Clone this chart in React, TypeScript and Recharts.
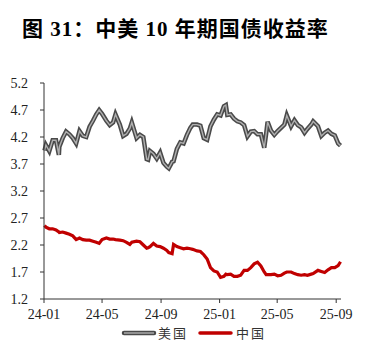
import React from "react";
import { LineChart, Line, XAxis, YAxis } from "recharts";

// trading dates (weekly-ish), aligned with the two yield arrays
const dates = [
  "2024-01-02", "2024-01-05", "2024-01-12", "2024-01-19", "2024-01-26", "2024-02-01", "2024-02-02", "2024-02-09",
  "2024-02-16", "2024-02-23", "2024-03-01", "2024-03-08", "2024-03-15", "2024-03-22", "2024-03-29", "2024-04-05",
  "2024-04-12", "2024-04-19", "2024-04-25", "2024-05-01", "2024-05-10", "2024-05-17", "2024-05-24", "2024-05-29",
  "2024-06-07", "2024-06-14", "2024-06-21", "2024-06-28", "2024-07-02", "2024-07-12", "2024-07-19", "2024-07-26",
  "2024-08-02", "2024-08-05", "2024-08-09", "2024-08-16", "2024-08-23", "2024-08-30", "2024-09-06", "2024-09-13",
  "2024-09-17", "2024-09-24", "2024-09-27", "2024-10-04", "2024-10-11", "2024-10-18", "2024-10-25", "2024-11-01",
  "2024-11-06", "2024-11-15", "2024-11-22", "2024-11-29", "2024-12-06", "2024-12-13", "2024-12-20", "2024-12-27",
  "2025-01-03", "2025-01-10", "2025-01-14", "2025-01-17", "2025-01-24", "2025-01-31", "2025-02-07", "2025-02-14",
  "2025-02-21", "2025-02-28", "2025-03-07", "2025-03-14", "2025-03-21", "2025-03-28", "2025-04-04", "2025-04-08",
  "2025-04-11", "2025-04-18", "2025-04-25", "2025-05-02", "2025-05-09", "2025-05-16", "2025-05-21", "2025-05-30",
  "2025-06-06", "2025-06-13", "2025-06-20", "2025-06-27", "2025-07-03", "2025-07-11", "2025-07-15", "2025-07-25",
  "2025-08-01", "2025-08-08", "2025-08-15", "2025-08-22", "2025-08-29", "2025-09-05", "2025-09-10",
];

const usYield = [
  3.95, 4.05, 3.94, 4.14, 4.14, 3.87, 4.02, 4.18,
  4.30, 4.25, 4.18, 4.08, 4.31, 4.22, 4.20, 4.39,
  4.50, 4.62, 4.70, 4.63, 4.50, 4.42, 4.47, 4.62,
  4.43, 4.22, 4.26, 4.36, 4.47, 4.18, 4.24, 4.20,
  3.79, 3.78, 3.94, 3.89, 3.80, 3.91, 3.72, 3.65,
  3.62, 3.74, 3.75, 3.98, 4.10, 4.08, 4.24, 4.37,
  4.43, 4.43, 4.41, 4.18, 4.15, 4.40, 4.52, 4.62,
  4.60, 4.77, 4.79, 4.61, 4.62, 4.54, 4.49, 4.47,
  4.42, 4.21, 4.30, 4.31, 4.25, 4.25, 4.00, 4.26,
  4.48, 4.32, 4.24, 4.31, 4.37, 4.43, 4.60, 4.40,
  4.51, 4.42, 4.38, 4.28, 4.35, 4.43, 4.49, 4.40,
  4.22, 4.28, 4.32, 4.26, 4.23, 4.08, 4.04,
];

const cnYield = [
  2.56, 2.53, 2.50, 2.50, 2.48, 2.44, 2.43, 2.44,
  2.42, 2.40, 2.37, 2.30, 2.33, 2.30, 2.29, 2.29,
  2.27, 2.25, 2.23, 2.30, 2.33, 2.31, 2.31, 2.30,
  2.29, 2.28, 2.25, 2.21, 2.25, 2.27, 2.26, 2.20,
  2.14, 2.15, 2.17, 2.23, 2.18, 2.17, 2.14, 2.10,
  2.06, 2.04, 2.21, 2.17, 2.15, 2.13, 2.14, 2.13,
  2.12, 2.09, 2.08, 2.02, 1.94, 1.78, 1.72, 1.70,
  1.60, 1.62, 1.66, 1.65, 1.66, 1.62, 1.62, 1.64,
  1.73, 1.73, 1.78, 1.85, 1.88, 1.81, 1.70, 1.65,
  1.65, 1.65, 1.66, 1.63, 1.64, 1.68, 1.70, 1.70,
  1.67, 1.65, 1.64, 1.65, 1.64, 1.66, 1.67, 1.73,
  1.71, 1.69, 1.74, 1.78, 1.78, 1.82, 1.89,
];

const xTickDates = ["2024-01-01", "2024-05-01", "2024-09-01", "2025-01-01", "2025-05-01", "2025-09-01"];
const yTicks = [1.2, 1.7, 2.2, 2.7, 3.2, 3.7, 4.2, 4.7, 5.2];

const toDay = (s: string) => {
  const [y, m, d] = s.split("-").map(Number);
  return (Date.UTC(y, m - 1, d) - Date.UTC(2024, 0, 1)) / 86400000;
};

const data = dates.map((d, i) => ({ day: toDay(d), us: usYield[i], cn: cnYield[i] }));
const xTicks = xTickDates.map(toDay);
const fmtX = (v: number) => {
  const dt = new Date(Date.UTC(2024, 0, 1) + v * 86400000);
  return `${String(dt.getUTCFullYear()).slice(2)}-${String(dt.getUTCMonth() + 1).padStart(2, "0")}`;
};

const serif = '"Times New Roman", "Liberation Serif", serif';
const tickStyle = { fontFamily: serif, fontSize: 14, fill: "#222" };
const legendText = {
  position: "absolute" as const, top: 325, fontFamily: '"Noto Sans CJK SC", sans-serif', fontSize: 13,
  lineHeight: "16px", color: "#333", letterSpacing: 2,
};

export default function App() {
  return (
    <div style={{ position: "fixed", left: 0, top: 0, width: 367, height: 363, background: "#fff" }}>
      <div
        style={{
          position: "absolute", left: 22, top: 17, fontSize: 21, lineHeight: "24px", fontWeight: "bold",
          fontFamily: '"Times New Roman", "Liberation Serif", "Noto Sans CJK SC", serif', color: "#000",
          whiteSpace: "nowrap", letterSpacing: 1,
        }}
      >
        图 31：中美 10 年期国债收益率
      </div>
      <LineChart width={367} height={363} data={data} margin={{ top: 83, right: 26, left: 0, bottom: 34 }}>
        <XAxis
          dataKey="day"
          type="number"
          domain={[0, 619]}
          ticks={xTicks}
          tickFormatter={fmtX}
          tick={tickStyle}
          tickSize={4}
          tickMargin={6}
          stroke="#333"
          height={30}
        />
        <YAxis
          type="number"
          domain={[1.2, 5.2]}
          ticks={yTicks}
          tickFormatter={(v: number) => v.toFixed(1)}
          tick={tickStyle}
          tickSize={4}
          tickMargin={12}
          stroke="#333"
          width={44}
          interval={0}
        />
        <Line dataKey="us" type="linear" stroke="#4a4a4a" strokeWidth={4.5} dot={false} isAnimationActive={false} />
        <Line dataKey="us" type="linear" stroke="#b0b0b0" strokeWidth={1.4} dot={false} isAnimationActive={false} />
        <Line dataKey="cn" type="linear" stroke="#c00000" strokeWidth={3.2} dot={false} isAnimationActive={false} />
      </LineChart>
      <svg width={367} height={20} style={{ position: "absolute", left: 0, top: 323 }}>
        <line x1={124} y1={10} x2={154} y2={10} stroke="#4a4a4a" strokeWidth={4.5} strokeLinecap="round" />
        <line x1={124} y1={10} x2={154} y2={10} stroke="#b0b0b0" strokeWidth={1.4} />
        <line x1={200} y1={10} x2={231} y2={10} stroke="#c00000" strokeWidth={3.5} strokeLinecap="round" />
      </svg>
      <span style={{ ...legendText, left: 158 }}>美国</span>
      <span style={{ ...legendText, left: 236 }}>中国</span>
    </div>
  );
}
